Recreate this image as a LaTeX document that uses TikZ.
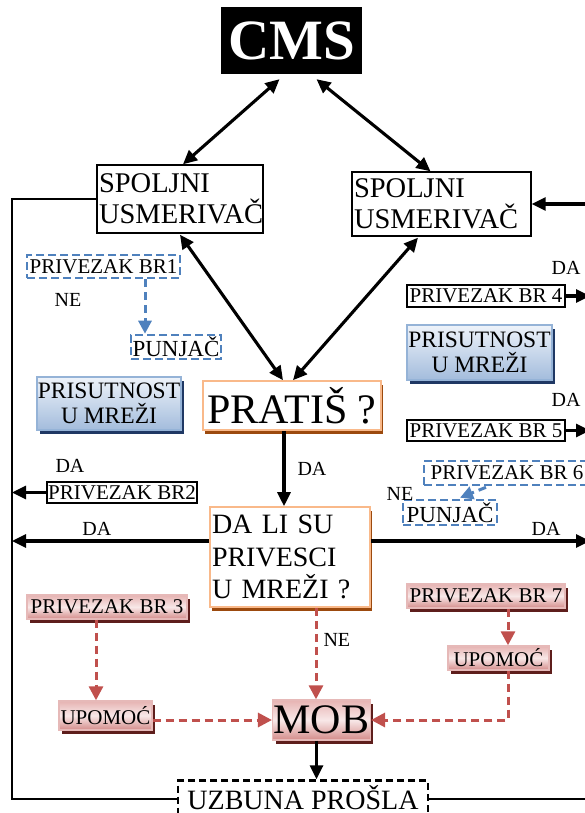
\documentclass[tikz,border=0pt]{standalone}
\usepackage{fontspec}
\setmainfont{Liberation Serif}
\usetikzlibrary{arrows.meta,shadows}

\definecolor{orbord}{HTML}{F9B98A}
\definecolor{orshadow}{HTML}{9C4A0E}
\definecolor{bluedash}{HTML}{4F81BD}
\definecolor{bluetop}{HTML}{EEF3FA}
\definecolor{bluebot}{HTML}{A3BCDC}
\definecolor{blueline}{HTML}{95B3D7}
\definecolor{blueshadow}{HTML}{1F3864}
\definecolor{redtop}{HTML}{E6B3B2}
\definecolor{redmid}{HTML}{F8E8E8}
\definecolor{redbot}{HTML}{D48C8A}
\definecolor{redline}{HTML}{E6B9B8}
\definecolor{redshadow}{HTML}{5E1E1C}
\definecolor{reddash}{HTML}{C0504D}

\newcommand*\fsz[1]{\fontsize{#1}{#1}\selectfont}

\tikzset{
  plainbox/.style={draw=black, line width=1.4pt, fill=white, inner sep=2pt},
  askbox/.style={draw=orbord, line width=1.6pt, fill=white, inner sep=2pt,
    drop shadow={shadow xshift=1.5pt, shadow yshift=-3.5pt, fill=orshadow, opacity=1}},
  chargebox/.style={draw=bluedash, line width=2.6pt, dash pattern=on 8pt off 4pt, fill=white, inner sep=1pt},
  netbox/.style={draw=blueline, line width=1.6pt, top color=bluetop, bottom color=bluebot,
    inner sep=1pt, align=center,
    drop shadow={shadow xshift=3pt, shadow yshift=-3.5pt, fill=blueshadow, opacity=1}},
  alarmbox/.style={draw=redline, line width=1.4pt, top color=redtop, bottom color=redbot, middle color=redmid,
    inner sep=1pt,
    drop shadow={shadow xshift=3pt, shadow yshift=-3.5pt, fill=redshadow, opacity=1}},
  arr/.style={line width=3.1pt, -{Triangle[length=14pt,width=13pt]}},
  dbl/.style={line width=3.1pt, {Triangle[length=14pt,width=13pt]}-{Triangle[length=14pt,width=13pt]}},
  rail/.style={line width=1.7pt},
  bluearr/.style={draw=bluedash, line width=3pt, dash pattern=on 8pt off 5pt, -{Triangle[length=13pt,width=13pt]}},
  redarr/.style={draw=reddash, line width=3pt, dash pattern=on 8pt off 5pt, -{Triangle[length=14pt,width=14pt]}},
  lbl/.style={font=\fsz{20}, inner sep=0pt}
}

\begin{document}
\begin{tikzpicture}[x=1pt,y=-1pt]
\useasboundingbox (0,0) rectangle (584,813);

% rails along the page edges
\coordinate (lrail) at (12,0);
\coordinate (rrail) at (590,0);

% central column
\node[fill=black, text=white, minimum width=141pt, minimum height=67pt, inner sep=0pt,
  font=\fsz{57}\bfseries] (cms) at (291.5,40.5) {CMS};
\node[plainbox, text width=162pt, minimum height=68pt, align=left, font=\fontsize{28.5}{31}\selectfont]
  (sp1) at (180,199) {SPOLJNI\\USMERIVAČ};
\node[plainbox, text width=175pt, minimum height=64pt, align=left, font=\fontsize{28.5}{31}\selectfont]
  (sp2) at (441.5,204) {SPOLJNI\\USMERIVAČ};
\node[askbox, minimum width=178pt, minimum height=49pt, font=\fsz{42}]
  (pratis) at (292,405.5) {PRATIŠ ?};
\node[askbox, text width=156pt, minimum height=100pt, align=left, font=\fontsize{28}{32.5}\selectfont]
  (dali) at (290,557) {DA LI SU\\PRIVESCI\\U MREŽI ?};
\node[alarmbox, minimum width=97pt, minimum height=40pt, font=\fsz{42}]
  (mob) at (321.5,720) {MOB};
\node[draw=black, line width=2.4pt, dash pattern=on 7pt off 4pt, fill=white,
  minimum width=250pt, minimum height=34pt, font=\fsz{28}] (uz) at (303,797.5) {UZBUNA PROŠLA};

% left column
\node[chargebox, minimum width=153pt, minimum height=23pt, font=\fsz{21}] (b1) at (103.5,266.5) {PRIVEZAK BR1};
\node[chargebox, minimum width=90pt, minimum height=24pt, font=\fsz{23}] (p1) at (176,347) {PUNJAČ};
\node[netbox, minimum width=144pt, minimum height=53pt, font=\fontsize{23.5}{25}\selectfont]
  (pm1) at (109,403.5) {PRISUTNOST\\U MREŽI};
\node[plainbox, inner sep=1pt, minimum width=150pt, minimum height=21pt, font=\fsz{21}] (b2) at (122,492.5) {PRIVEZAK BR2};
\node[alarmbox, minimum width=160pt, minimum height=24pt, font=\fsz{21}] (b3) at (107,607) {PRIVEZAK BR 3};
\node[alarmbox, minimum width=93pt, minimum height=29pt, font=\fsz{21}] (u1) at (105.5,715.5) {UPOMOĆ};

% right column
\node[plainbox, inner sep=1pt, minimum width=158pt, minimum height=22pt, font=\fsz{21}] (b4) at (486,296) {PRIVEZAK BR 4};
\node[netbox, minimum width=145pt, minimum height=55pt, font=\fontsize{23.5}{25}\selectfont]
  (pm2) at (479.5,352.5) {PRISUTNOST\\U MREŽI};
\node[plainbox, inner sep=1pt, minimum width=158pt, minimum height=21pt, font=\fsz{21}] (b5) at (486,430.5) {PRIVEZAK BR 5};
\node[chargebox, minimum width=166pt, minimum height=24pt, font=\fsz{21}] (b6) at (507,473) {PRIVEZAK BR 6};
\node[chargebox, minimum width=94pt, minimum height=25pt, font=\fsz{23}] (p2) at (450,512.5) {PUNJAČ};
\node[alarmbox, minimum width=158pt, minimum height=24pt, font=\fsz{21}] (b7) at (486,596) {PRIVEZAK BR 7};
\node[alarmbox, minimum width=101pt, minimum height=24pt, font=\fsz{21}] (u2) at (498.5,658) {UPOMOĆ};

% CMS links
\draw[dbl] ([shift={(-12,5)}]cms.south) -- ([xshift=3pt]sp1.north);
\draw[dbl] ([shift={(25,5)}]cms.south) -- ([xshift=-11pt]sp2.north);
\draw[dbl] ([yshift=-1pt]sp1.south) -- ([xshift=-9pt]pratis.north);
\draw[dbl] ([xshift=-23.5pt,yshift=-1pt]sp2.south) -- ([xshift=1pt]pratis.north);

% decision flow
\draw[arr] ([xshift=-8pt]pratis.south) -- ([xshift=-8pt]pratis.south |- dali.north)
  node[lbl, midway, right=12pt] {DA};
\draw[arr] ([yshift=16pt]dali.west) -- ([yshift=16pt]dali.west -| lrail)
  node[lbl, pos=0.57, above=4pt] {DA};
\draw[arr] ([yshift=16pt]dali.east) -- ([yshift=16pt]dali.east -| rrail)
  node[lbl, pos=0.8, above=4pt] {DA};
\draw[redarr] ([xshift=26pt]dali.south) -- ([xshift=26pt]dali.south |- mob.north)
  node[lbl, pos=0.35, right=6pt] {NE};
\draw[arr] ([xshift=-5pt]mob.south) -- ([xshift=-5pt]mob.south |- uz.north);

% rails
\draw[rail] (sp1.west) -- (sp1.west -| lrail) -- ([yshift=-1.5pt]uz.west -| lrail) -- ([yshift=-1.5pt]uz.west);
\draw[rail] ([yshift=-1.5pt]uz.east) -- ([yshift=-1.5pt]uz.east -| rrail);
\draw[arr] (sp2.east -| rrail) -- (sp2.east);

% side branches
\draw[bluearr] ([xshift=41.5pt]b1.south) -- ([xshift=41.5pt]b1.south |- p1.north);
\node[lbl] (ne1) at (68,300) {NE};
\draw[arr] (b2.west) -- (b2.west -| lrail);
\node[lbl] (da2) at (70,466) {DA};
\draw[redarr] ([xshift=-11pt]b3.south) -- ([xshift=-11pt]b3.south |- u1.north);
\draw[redarr] (u1.east |- mob.west) -- (mob.west);

\draw[arr] (b4.east) -- (b4.east -| rrail);
\node[lbl] (da4) at (566,268) {DA};
\draw[arr] (b5.east) -- (b5.east -| rrail);
\node[lbl] (da5) at (566,400) {DA};
\draw[bluearr] ([xshift=-21pt,yshift=-1pt]b6.south) -- ([xshift=10pt,yshift=1pt]p2.north);
\node[lbl] (ne6) at (400,494) {NE};
\draw[redarr] ([xshift=22pt]b7.south) -- ([xshift=22pt]b7.south |- u2.north);
\draw[redarr] ([xshift=9.5pt]u2.south) |- (mob.east);
\end{tikzpicture}
\end{document}
